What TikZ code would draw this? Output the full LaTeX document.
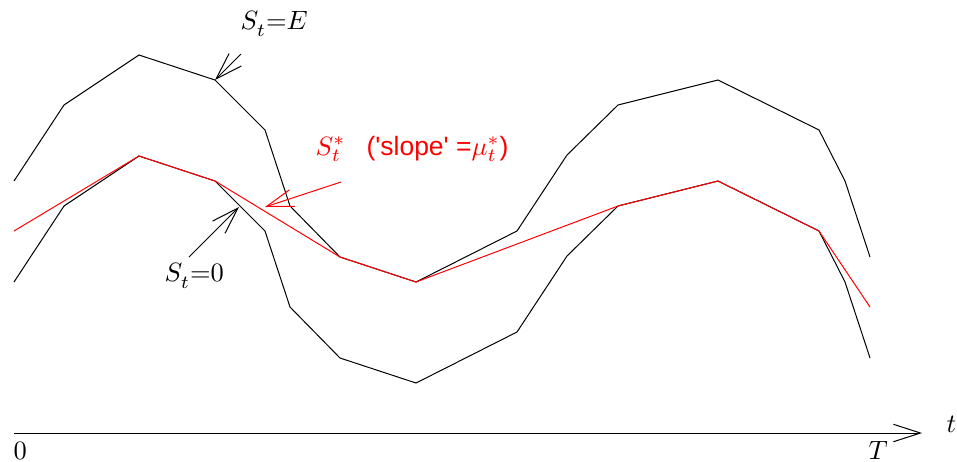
\documentclass[tikz,border=0pt]{standalone}
\usepackage{fix-cm}
\usepackage{fontspec}
\newfontfamily\arialf{Liberation Sans}
\usetikzlibrary{arrows.meta}
\newcommand\lsub[1]{_{\raisebox{-1.6pt}{$\scriptstyle #1$}}}
\begin{document}
\begin{tikzpicture}[x=0.4pt,y=-0.4pt,line width=0.4pt,
  barb/.style={-{Straight Barb[length=10.8pt,width=7pt]}},
  lbl/.style={anchor=base west,inner sep=0pt,font=\fontsize{10.6}{12}\selectfont},
  redline/.style={red}]
\useasboundingbox (0,0) rectangle (957,461);
% upper curve
\draw (14,181) -- (64,105) -- (139,55) -- (215,80) -- (265,130) -- (290,206) -- (340,257) -- (416,282) -- (517,231) -- (567,155) -- (618,105) -- (718,80) -- (819,130) -- (845,181) -- (870,257);
% lower curve
\draw (14,282) -- (64,206) -- (139,156) -- (215,181) -- (265,231) -- (290,307) -- (340,358) -- (416,383) -- (517,332) -- (567,256) -- (618,206) -- (718,181) -- (819,231) -- (845,282) -- (870,358);
% red optimal path
\draw[redline] (14,231) -- (139,156) -- (215,181) -- (340,257) -- (416,282) -- (618,206) -- (718,181) -- (819,231) -- (870,307);
% coordinates for arrows
\coordinate (tipE) at (215,80);
\coordinate (tailE) at (241,54);
\coordinate (tip0) at (239,207);
\coordinate (tail0) at (189,257);
\coordinate (tipR) at (265,207);
\coordinate (tailR) at (341,182);
\draw[barb] (tailE) -- (tipE);
\draw[barb] (tail0) -- (tip0);
\draw[barb,redline] (tailR) -- (tipR);
% labels
\node[lbl] (lE) at (240,29) {$S\lsub{t}{=}E$};
\node[lbl] (l0) at (164,281) {$S\lsub{t}{=}0$};
\node[lbl,red] (lS) at (315,155) {$S^*_t$};
\node[lbl,red] (lslope) at (366,155) {\arialf('slope' =$\mu^*_t$)};
% axis
\coordinate (ax0) at (14,433);
\coordinate (ax1) at (922,433);
\draw[barb] (ax0) -- (ax1);
\node[lbl] (zero) at (13,459) {$0$};
\node[lbl] (bigT) at (868,459) {$T$};
\node[lbl] (smt) at (946,432) {$t$};
\end{tikzpicture}
\end{document}
